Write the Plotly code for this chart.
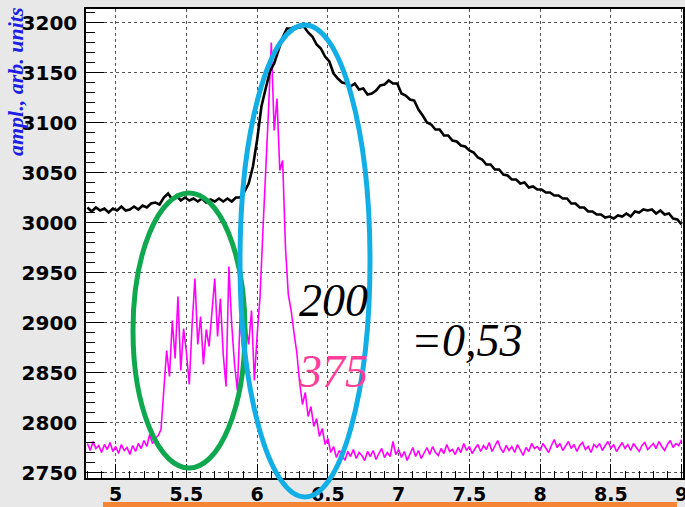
import numpy as np
import plotly.graph_objects as go

# ---------------- data ----------------
# black trace: bins start at 4.80, step 0.03
black_x0 = 4.80
black_step = 0.03
black_vals = [
    3015, 3011, 3015, 3012, 3014, 3010, 3014, 3012, 3016, 3012,   # 4.80-5.07
    3013, 3016, 3013, 3017, 3015, 3019, 3020, 3018, 3025, 3029,   # 5.10-5.37
    3023, 3027, 3022, 3025, 3022, 3024, 3021, 3024, 3020, 3023,   # 5.40-5.67
    3021, 3024, 3021, 3024, 3021, 3025, 3025, 3031, 3039, 3056,   # 5.70-5.97
    3083, 3116, 3134, 3151, 3159, 3173, 3185, 3194, 3194, 3196,   # 6.00-6.27
    3195, 3196, 3190, 3186, 3178, 3174, 3166, 3161, 3149, 3144,   # 6.30-6.57
    3140, 3139, 3136, 3139, 3133, 3134, 3128, 3129, 3132, 3137,   # 6.60-6.87
    3138, 3142, 3139, 3139, 3129, 3127, 3123, 3122, 3113, 3107,   # 6.90-7.17
    3100, 3098, 3093, 3093, 3087, 3087, 3082, 3081, 3077, 3076,   # 7.20-7.47
    3072, 3070, 3065, 3063, 3058, 3058, 3053, 3053, 3048, 3047,   # 7.50-7.77
    3043, 3043, 3039, 3040, 3035, 3036, 3033, 3033, 3030, 3030,   # 7.80-8.07
    3027, 3027, 3024, 3024, 3019, 3019, 3015, 3015, 3011, 3011,   # 8.10-8.37
    3008, 3008, 3005, 3006, 3004, 3007, 3006, 3009, 3006, 3011,   # 8.40-8.67
    3010, 3013, 3012, 3013, 3009, 3012, 3008, 3009, 3004, 3003,   # 8.70-8.97
    2998,                                                         # 9.00
]

# magenta trace: bins start at 4.80, step 0.02
mag_x0 = 4.80
mag_step = 0.02
mag_vals = [
    2779, 2772, 2781, 2774, 2777, 2770, 2778, 2773, 2780, 2771,   # 4.80-4.98
    2776, 2769, 2778, 2772, 2775, 2768, 2777, 2771, 2779, 2774,   # 5.00-5.18
    2782, 2776, 2788, 2779, 2784, 2787, 2793, 2838, 2872, 2846,   # 5.20-5.38
    2902, 2864, 2926, 2852, 2894, 2870, 2838, 2898, 2944, 2878,   # 5.40-5.58
    2906, 2858, 2893, 2876, 2914, 2944, 2886, 2924, 2868, 2836,   # 5.60-5.78
    2956, 2898, 2858, 2832, 2906, 2868, 2897, 2878, 2912, 2842,   # 5.80-5.98
    2888, 2925, 2990, 3060, 3112, 3180, 3092, 3124, 3052, 3062,   # 6.00-6.18
    2975, 2928, 2912, 2890, 2870, 2840, 2818, 2830, 2806, 2816,   # 6.20-6.38
    2796, 2804, 2786, 2794, 2778, 2784, 2770, 2776, 2765, 2772,   # 6.40-6.58
    2768, 2762, 2771, 2766, 2773, 2764, 2770, 2767, 2762, 2771,   # 6.60-6.78
    2766, 2772, 2763, 2769, 2774, 2765, 2770, 2766, 2781, 2768,   # 6.80-6.98
    2773, 2765, 2771, 2762, 2769, 2775, 2766, 2772, 2764, 2770,   # 7.00-7.18
    2775, 2768, 2776, 2770, 2767, 2774, 2769, 2778, 2771, 2773,   # 7.20-7.38
    2768, 2775, 2770, 2779, 2772, 2776, 2769, 2774, 2778, 2771,   # 7.40-7.58
    2777, 2773, 2780, 2771, 2776, 2782, 2774, 2770, 2777, 2772,   # 7.60-7.78
    2776, 2770, 2778, 2773, 2767, 2775, 2771, 2779, 2774, 2776,   # 7.80-7.98
    2772, 2779, 2774, 2770, 2777, 2783, 2775, 2779, 2772, 2776,   # 8.00-8.18
    2781, 2774, 2778, 2771, 2777, 2780, 2773, 2776, 2770, 2778,   # 8.20-8.38
    2775, 2779, 2772, 2777, 2781, 2774, 2778, 2771, 2776, 2780,   # 8.40-8.58
    2774, 2778, 2772, 2779, 2775, 2771, 2777, 2780, 2773, 2776,   # 8.60-8.78
    2779, 2774, 2781, 2776, 2772, 2778, 2782, 2775, 2779, 2777, 2783,  # 8.80-9.00
]

y_title = "ampl., arb. units"
label_black = "200"
label_pink = "375"
label_ratio = "=0,53"

# ---------------- figure ----------------
black_x = black_x0 + black_step * np.arange(len(black_vals))
mag_x = mag_x0 + mag_step * np.arange(len(mag_vals))

fig = go.Figure()
fig.add_trace(go.Scatter(x=mag_x, y=mag_vals, mode="lines",
                         line=dict(color="#ff00ff", width=1.6),
                         showlegend=False))
fig.add_trace(go.Scatter(x=black_x, y=black_vals, mode="lines",
                         line=dict(color="black", width=2.6),
                         showlegend=False))

L, R, T, B = 86, 2, 9, 29
W, H = 685, 507
pw, ph = W - L - R, H - T - B

def px(xp):
    return (xp - L) / pw

def py(yp):
    return (H - B - yp) / ph

tickfont = dict(family="DejaVu Sans", size=20, color="black", weight="bold")
xtickfont = dict(family="DejaVu Sans", size=19, color="black", weight="bold")

fig.update_layout(
    width=W, height=H,
    margin=dict(l=L, r=R, t=T, b=B, pad=0, autoexpand=False),
    paper_bgcolor="#e8e8e8",
    plot_bgcolor="white",
    xaxis=dict(range=[4.79, 9.01], tick0=5, dtick=0.5, ticks="inside",
               ticklen=14, tickwidth=1, tickcolor="black", automargin=False,
               showline=True, mirror=True, linecolor="black", linewidth=1.5,
               showgrid=True, gridcolor="#555555", griddash="dot", gridwidth=1,
               zeroline=False, tickfont=xtickfont, ticklabelstandoff=-2,
               ticklabeloverflow="allow",
               minor=dict(dtick=0.1, ticks="inside", ticklen=7,
                          tickcolor="black", showgrid=False)),
    yaxis=dict(range=[2744.5, 3213.5], tick0=2750, dtick=50, ticks="inside",
               ticklen=18, tickwidth=1, tickcolor="black", automargin=False,
               showline=True, mirror=True, linecolor="black", linewidth=1.5,
               showgrid=True, gridcolor="#555555", griddash="dot", gridwidth=1,
               zeroline=False, tickfont=tickfont, ticklabelstandoff=3,
               ticklabeloverflow="allow",
               minor=dict(dtick=10, ticks="inside", ticklen=9,
                          tickcolor="black", showgrid=False)),
)

shapes = [
    dict(type="circle", xref="paper", yref="paper",
         x0=px(133), x1=px(245), y0=py(468), y1=py(193),
         line=dict(color="#10a84e", width=5), layer="above"),
    dict(type="circle", xref="paper", yref="paper",
         x0=px(240), x1=px(370), y0=py(497), y1=py(25),
         line=dict(color="#12aee6", width=5), layer="above"),
    dict(type="rect", xref="paper", yref="paper",
         x0=px(103), x1=px(677), y0=py(508), y1=py(502),
         line=dict(width=0), fillcolor="#f58434", layer="above"),
]
fig.update_layout(shapes=shapes)

serif_it = dict(family="Liberation Serif", size=46, style="italic")
fig.add_annotation(text=label_black, xref="paper", yref="paper",
                   x=px(333), y=py(301), xanchor="center", yanchor="middle",
                   showarrow=False, font=dict(**serif_it, color="black"))
fig.add_annotation(text=label_pink, xref="paper", yref="paper",
                   x=px(333), y=py(371), xanchor="center", yanchor="middle",
                   showarrow=False, font=dict(**serif_it, color="#ff3d9a"))
fig.add_annotation(text=label_ratio, xref="paper", yref="paper",
                   x=px(467), y=py(340), xanchor="center", yanchor="middle",
                   showarrow=False, font=dict(**serif_it, color="black"))
fig.add_annotation(text=y_title, xref="paper", yref="paper",
                   x=px(15), y=py(82), xanchor="center", yanchor="middle",
                   textangle=-90, showarrow=False,
                   font=dict(family="Liberation Serif", size=22, style="italic",
                             weight="bold", color="#1e1ee6"))

fig.write_html("out.html", config={"displayModeBar": False},
               post_script="document.body.style.margin='0';"
                           "document.body.style.overflow='hidden';")
